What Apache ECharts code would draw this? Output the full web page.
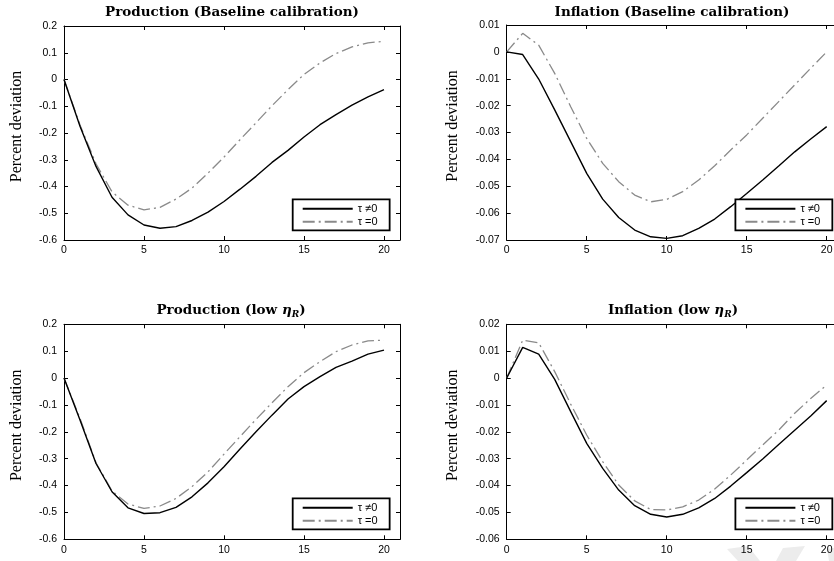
<!DOCTYPE html>
<html><head><meta charset="utf-8">
<script src="https://cdn.jsdelivr.net/npm/echarts@6/dist/echarts.min.js"></script>
<style>html,body{margin:0;padding:0;background:#fff}#c{width:834px;height:561px}</style>
</head><body><div id="c"></div>
<script>
const periods = [0,1,2,3,4,5,6,7,8,9,10,11,12,13,14,15,16,17,18,19,20];
const seriesNames = ['\u03c4 \u22600', '\u03c4 =0'];
const panelTitles = ['Production (Baseline calibration)', 'Inflation (Baseline calibration)', 'Production (low ', 'Inflation (low '];
const yAxisTitle = 'Percent deviation';
const xTicks = [0, 5, 10, 15, 20];

const prodBaseTau  = [0, -0.175, -0.325, -0.44, -0.506, -0.544, -0.556, -0.55, -0.527, -0.496, -0.456, -0.41, -0.362, -0.31, -0.265, -0.215, -0.169, -0.131, -0.096, -0.065, -0.038];
const prodBaseZero = [0, -0.17, -0.315, -0.42, -0.47, -0.487, -0.478, -0.447, -0.406, -0.35, -0.29, -0.225, -0.162, -0.098, -0.038, 0.019, 0.062, 0.097, 0.122, 0.137, 0.143];
const inflBaseTau  = [0, -0.001, -0.0101, -0.0216, -0.0334, -0.0452, -0.0548, -0.0616, -0.0663, -0.0688, -0.0694, -0.0684, -0.0657, -0.0622, -0.0576, -0.0527, -0.0477, -0.0425, -0.0372, -0.0324, -0.0278];
const inflBaseZero = [0, 0.0069, 0.0025, -0.008, -0.0204, -0.0322, -0.0415, -0.0483, -0.0533, -0.0558, -0.0549, -0.052, -0.0477, -0.0424, -0.0365, -0.0309, -0.0247, -0.0185, -0.0123, -0.0061, 0.0];
const prodLowTau   = [0, -0.156, -0.318, -0.423, -0.483, -0.504, -0.501, -0.481, -0.442, -0.39, -0.33, -0.264, -0.2, -0.138, -0.078, -0.032, 0.005, 0.04, 0.063, 0.089, 0.104];
const prodLowZero  = [0, -0.15, -0.315, -0.42, -0.469, -0.485, -0.476, -0.448, -0.404, -0.349, -0.283, -0.218, -0.154, -0.092, -0.032, 0.02, 0.061, 0.098, 0.123, 0.138, 0.141];
const inflLowTau   = [0, 0.0114, 0.0089, -0.0005, -0.0125, -0.0243, -0.0336, -0.0417, -0.0475, -0.0507, -0.0517, -0.0507, -0.0483, -0.0448, -0.0402, -0.0352, -0.0301, -0.0247, -0.0194, -0.0141, -0.0084];
const inflLowZero  = [0, 0.0141, 0.0131, 0.0024, -0.0097, -0.0212, -0.0311, -0.0398, -0.0457, -0.0489, -0.0491, -0.0479, -0.0454, -0.0413, -0.0361, -0.0305, -0.0249, -0.0194, -0.0131, -0.0076, -0.0026];

const yRanges = [[-0.6, 0.2, 0.1], [-0.07, 0.01, 0.01], [-0.6, 0.2, 0.1], [-0.06, 0.02, 0.01]];
const panelData = [[prodBaseTau, prodBaseZero], [inflBaseTau, inflBaseZero], [prodLowTau, prodLowZero], [inflLowTau, inflLowZero]];

const grids = [
  {left: 64, top: 26, width: 336, height: 214},
  {left: 506.7, top: 25, width: 336, height: 215},
  {left: 64, top: 324.3, width: 336, height: 215},
  {left: 506.7, top: 324.3, width: 336, height: 215}
];
const legendPos = [[292.7, 199.3], [735.4, 199.3], [292.7, 498.3], [735.4, 498.3]];
const titlePos = [[232, 4], [672, 4], [231, 302], [673, 302]];

const sans = 'Liberation Sans';
const serif = 'Liberation Serif';
const titleFont = 'DejaVu Serif';

const option = {backgroundColor: '#fff', animation: false, grid: [], xAxis: [], yAxis: [], series: [], legend: [], title: [],
  graphic: [
    {type: 'polygon', silent: true, z: -1, shape: {points: [[727, 549], [748, 546], [760, 561], [738, 561]]}, style: {fill: '#ececec'}},
    {type: 'polygon', silent: true, z: -1, shape: {points: [[783, 548], [805, 546], [796, 561], [776, 561]]}, style: {fill: '#ececec'}},
    {type: 'polygon', silent: true, z: -1, shape: {points: [[827, 549], [834, 548], [834, 561], [829, 561]]}, style: {fill: '#ececec'}}
  ]};

grids.forEach((g, i) => {
  option.grid.push(Object.assign({containLabel: false, outerBoundsMode: 'none'}, g));
  const axLine = {show: true, onZero: false, lineStyle: {color: '#000', width: 1}};
  const tick = {show: true, inside: true, length: 4, lineStyle: {color: '#000', width: 1}};
  option.xAxis.push({
    type: 'value', gridIndex: i, min: 0, max: 21, interval: 5, position: 'bottom',
    axisLine: axLine, axisTick: tick, splitLine: {show: false},
    axisLabel: {color: '#000', fontFamily: sans, fontSize: 10.5, margin: 5, hideOverlap: false,
      formatter: v => (xTicks.indexOf(v) >= 0 ? String(v) : '')}
  });
  option.xAxis.push({
    type: 'value', gridIndex: i, min: 0, max: 21, interval: 5, position: 'top',
    axisLine: axLine, axisTick: tick, splitLine: {show: false}, axisLabel: {show: false}
  });
  const [ymin, ymax, yint] = yRanges[i];
  option.yAxis.push({
    type: 'value', gridIndex: i, min: ymin, max: ymax, interval: yint, position: 'left',
    axisLine: axLine, axisTick: tick, splitLine: {show: false},
    axisLabel: {color: '#000', fontFamily: sans, fontSize: 10.5, margin: 7},
    name: yAxisTitle, nameLocation: 'middle', nameRotate: 90, nameGap: i % 2 === 0 ? 39 : 46,
    nameTextStyle: {color: '#000', fontFamily: serif, fontSize: 16, padding: [0, 0, 0, 13]}
  });
  option.yAxis.push({
    type: 'value', gridIndex: i, min: ymin, max: ymax, interval: yint, position: 'right',
    axisLine: axLine, axisTick: tick, splitLine: {show: false}, axisLabel: {show: false}
  });
  const [tau, zero] = panelData[i];
  option.series.push({
    name: seriesNames[0], type: 'line', xAxisIndex: 2 * i, yAxisIndex: 2 * i,
    data: periods.map((p, k) => [p, tau[k]]), symbol: 'none', showSymbol: false,
    lineStyle: {color: '#000', width: 1.4, type: 'solid'}, itemStyle: {color: '#000'}, z: 3
  });
  option.series.push({
    name: seriesNames[1], type: 'line', xAxisIndex: 2 * i, yAxisIndex: 2 * i,
    data: periods.map((p, k) => [p, zero[k]]), symbol: 'none', showSymbol: false,
    lineStyle: {color: '#8a8a8a', width: 1.3, type: [12, 4, 2, 4]}, itemStyle: {color: '#8a8a8a'}, z: 2
  });
  option.legend.push({
    data: seriesNames, orient: 'vertical', left: legendPos[i][0], top: legendPos[i][1],
    backgroundColor: '#fff', borderColor: '#000', borderWidth: 1.8, borderRadius: 0,
    padding: [4, 12, 3, 9], itemGap: 2, itemWidth: 50, itemHeight: 12, selectedMode: false,
    itemStyle: {opacity: 0, borderWidth: 0},
    textStyle: {color: '#000', fontFamily: sans, fontSize: 11}, z: 10
  });
  const fs = 13.5;
  const rich = {
    n: {fontFamily: titleFont, fontWeight: 'bold', fontSize: fs, color: '#000', lineHeight: 17},
    g: {fontFamily: titleFont, fontWeight: 'bold', fontStyle: 'italic', fontSize: fs, color: '#000', lineHeight: 17},
    s: {fontFamily: titleFont, fontWeight: 'bold', fontStyle: 'italic', fontSize: 9, color: '#000', lineHeight: 10, verticalAlign: 'bottom'}
  };
  const txt = i < 2 ? '{n|' + panelTitles[i] + '}' : '{n|' + panelTitles[i] + '}{g|\u03b7}{s|R}{n|)}';
  option.title.push({
    text: txt, left: titlePos[i][0], top: titlePos[i][1], textAlign: 'center', padding: 0,
    textStyle: {rich: rich, fontFamily: titleFont, fontWeight: 'bold', fontSize: fs, color: '#000'}
  });
});

const chart = echarts.init(document.getElementById('c'), null, {renderer: 'canvas'});
chart.setOption(option);
</script></body></html>
